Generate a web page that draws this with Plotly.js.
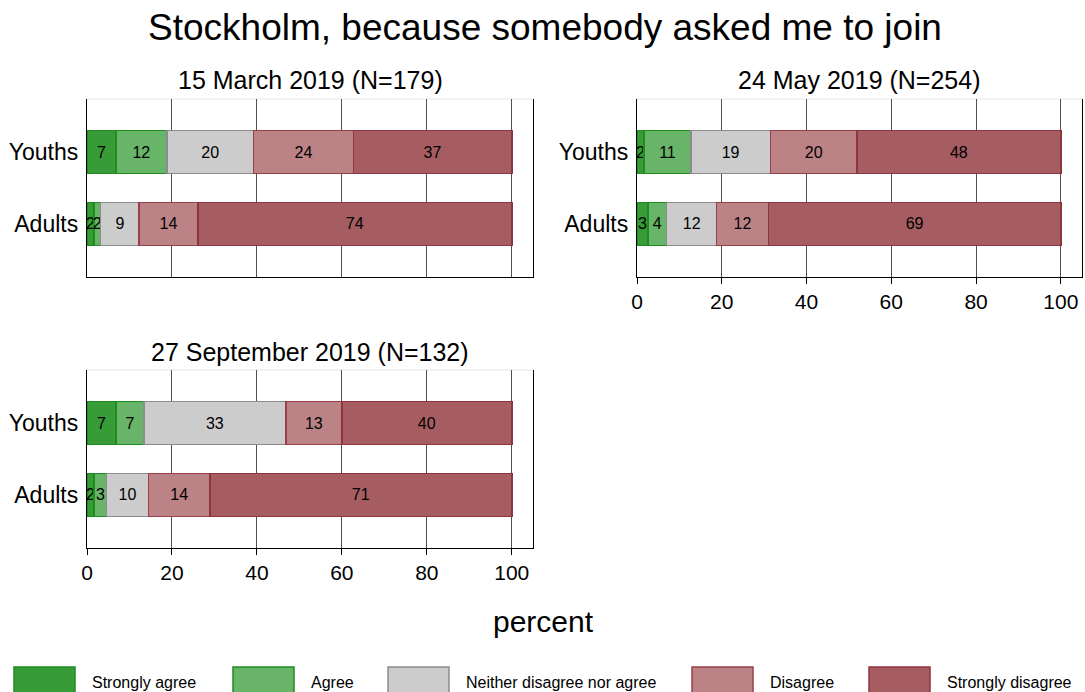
<!DOCTYPE html>
<html>
<head>
<meta charset="utf-8">
<script src="https://cdn.plot.ly/plotly-3.0.1.min.js"></script>
<style>html,body{margin:0;padding:0;background:#fff;}#chart{width:1085px;height:692px;}</style>
</head>
<body>
<div id="chart"></div>
<script>
// ---- data ----
var groups = ["Adults", "Youths"];
var responses = ["Strongly agree", "Agree", "Neither disagree nor agree", "Disagree", "Strongly disagree"];
var panelTitles = ["15 March 2019 (N=179)", "24 May 2019 (N=254)", "27 September 2019 (N=132)"];
// percentages per response, order [Adults, Youths]
var march = {
  stronglyAgree:    [1.6, 6.8],
  agree:            [1.6, 12.0],
  neither:          [9.1, 20.4],
  disagree:         [13.8, 23.5],
  stronglyDisagree: [73.9, 37.3]
};
var may = {
  stronglyAgree:    [2.6, 1.7],
  agree:            [4.4, 11.0],
  neither:          [11.8, 18.8],
  disagree:         [12.2, 20.4],
  stronglyDisagree: [69.0, 48.1]
};
var september = {
  stronglyAgree:    [1.7, 6.8],
  agree:            [2.9, 6.6],
  neither:          [9.9, 33.4],
  disagree:         [14.4, 13.2],
  stronglyDisagree: [71.1, 40.0]
};
var xTicks = [0, 20, 40, 60, 80, 100];

// ---- styles ----
var keys = ["stronglyAgree", "agree", "neither", "disagree", "stronglyDisagree"];
var fills = ["#379b37", "#68b468", "#cccccc", "#bc8387", "#a55d61"];
var borders = ["#1f8c1f", "#1f8c1f", "#8c8c8c", "#97404a", "#8f3540"];
var FONT = "Liberation Sans, Arial, Helvetica, sans-serif";

var panels = [march, may, september];
var axes = [["x", "y"], ["x2", "y2"], ["x3", "y3"]];
var traces = [];
panels.forEach(function (p, pi) {
  keys.forEach(function (k, ki) {
    traces.push({
      type: "bar",
      orientation: "h",
      name: responses[ki],
      y: groups,
      x: p[k],
      xaxis: axes[pi][0],
      yaxis: axes[pi][1],
      width: 0.6,
      marker: {color: fills[ki], line: {color: borders[ki], width: 1.6}},
      texttemplate: "%{x:.0f}",
      textposition: "inside",
      insidetextanchor: "middle",
      constraintext: "none",
      cliponaxis: false,
      textfont: {family: FONT, size: 16, color: "#000"},
      showlegend: false,
      hoverinfo: "x+y+name"
    });
  });
});

var dom1x = [87 / 1085, 533 / 1085];
var dom2x = [637 / 1085, 1082 / 1085];
var domTop = [1 - 277 / 692, 1 - 99 / 692];
var domBot = [1 - 548 / 692, 1 - 370 / 692];

function xa(domain, showLabels, anchor) {
  return {
    domain: domain, anchor: anchor, range: [0, 105], tickvals: xTicks,
    showgrid: true, gridcolor: "#505050", gridwidth: 1, zeroline: false,
    showline: true, linecolor: "#000", linewidth: 1.2,
    ticks: showLabels ? "outside" : "", ticklen: 6, tickcolor: "#000",
    showticklabels: showLabels,
    tickfont: {family: FONT, size: 21, color: "#000"}, fixedrange: true
  };
}
function ya(domain, anchor) {
  return {
    domain: domain, anchor: anchor, type: "category", categoryorder: "array",
    categoryarray: groups, range: [-0.74, 1.74],
    showgrid: false, zeroline: false, showline: true, linecolor: "#000",
    linewidth: 1.2, mirror: true, ticks: "", ticklabelstandoff: 3,
    tickfont: {family: FONT, size: 23, color: "#000"}, fixedrange: true
  };
}

var annotations = [];
var titlePos = [
  [(dom1x[0] + dom1x[1]) / 2, 1 - 80 / 692],
  [(dom2x[0] + dom2x[1]) / 2, 1 - 80 / 692],
  [(dom1x[0] + dom1x[1]) / 2, 1 - 352 / 692]
];
panelTitles.forEach(function (t, i) {
  annotations.push({text: t, xref: "paper", yref: "paper", x: titlePos[i][0], y: titlePos[i][1],
    xanchor: "center", yanchor: "middle", showarrow: false, font: {family: FONT, size: 25, color: "#000"}});
});
annotations.push({text: "percent", xref: "paper", yref: "paper", x: 543 / 1085, y: 1 - 621 / 692,
  xanchor: "center", yanchor: "middle", showarrow: false, font: {family: FONT, size: 30, color: "#000"}});

// custom legend
var legBoxX = [14, 233, 388, 692, 869];
var shapes = [];
responses.forEach(function (r, i) {
  shapes.push({type: "rect", xref: "paper", yref: "paper",
    x0: legBoxX[i] / 1085, x1: (legBoxX[i] + 61) / 1085, y0: 1 - 700 / 692, y1: 1 - 667 / 692,
    fillcolor: fills[i], line: {color: borders[i], width: 1.5}, layer: "above"});
  annotations.push({text: r, xref: "paper", yref: "paper", x: (legBoxX[i] + 76) / 1085, y: 1 - 682 / 692,
    xanchor: "left", yanchor: "middle", showarrow: false, font: {family: FONT, size: 16, color: "#000"}});
});
// faint top edges of plot regions
[["x domain", "y domain"], ["x2 domain", "y2 domain"], ["x3 domain", "y3 domain"]].forEach(function (r) {
  shapes.push({type: "line", xref: r[0], yref: r[1], x0: 0, x1: 1, y0: 1, y1: 1,
    line: {color: "#e6e6e6", width: 1}, layer: "below"});
});

var layout = {
  width: 1085, height: 692,
  margin: {l: 0, r: 0, t: 0, b: 0},
  paper_bgcolor: "#fff", plot_bgcolor: "#fff",
  barmode: "stack", showlegend: false,
  title: {text: "Stockholm, because somebody asked me to join", x: 545 / 1085, xanchor: "center",
    y: 1 - 27 / 692, yanchor: "middle", font: {family: FONT, size: 37, color: "#000"}},
  xaxis: xa(dom1x, false, "y"),
  yaxis: ya(domTop, "x"),
  xaxis2: xa(dom2x, true, "y2"),
  yaxis2: ya(domTop, "x2"),
  xaxis3: xa(dom1x, true, "y3"),
  yaxis3: ya(domBot, "x3"),
  annotations: annotations,
  shapes: shapes
};

Plotly.newPlot("chart", traces, layout, {displayModeBar: false, staticPlot: true});
</script>
</body>
</html>
